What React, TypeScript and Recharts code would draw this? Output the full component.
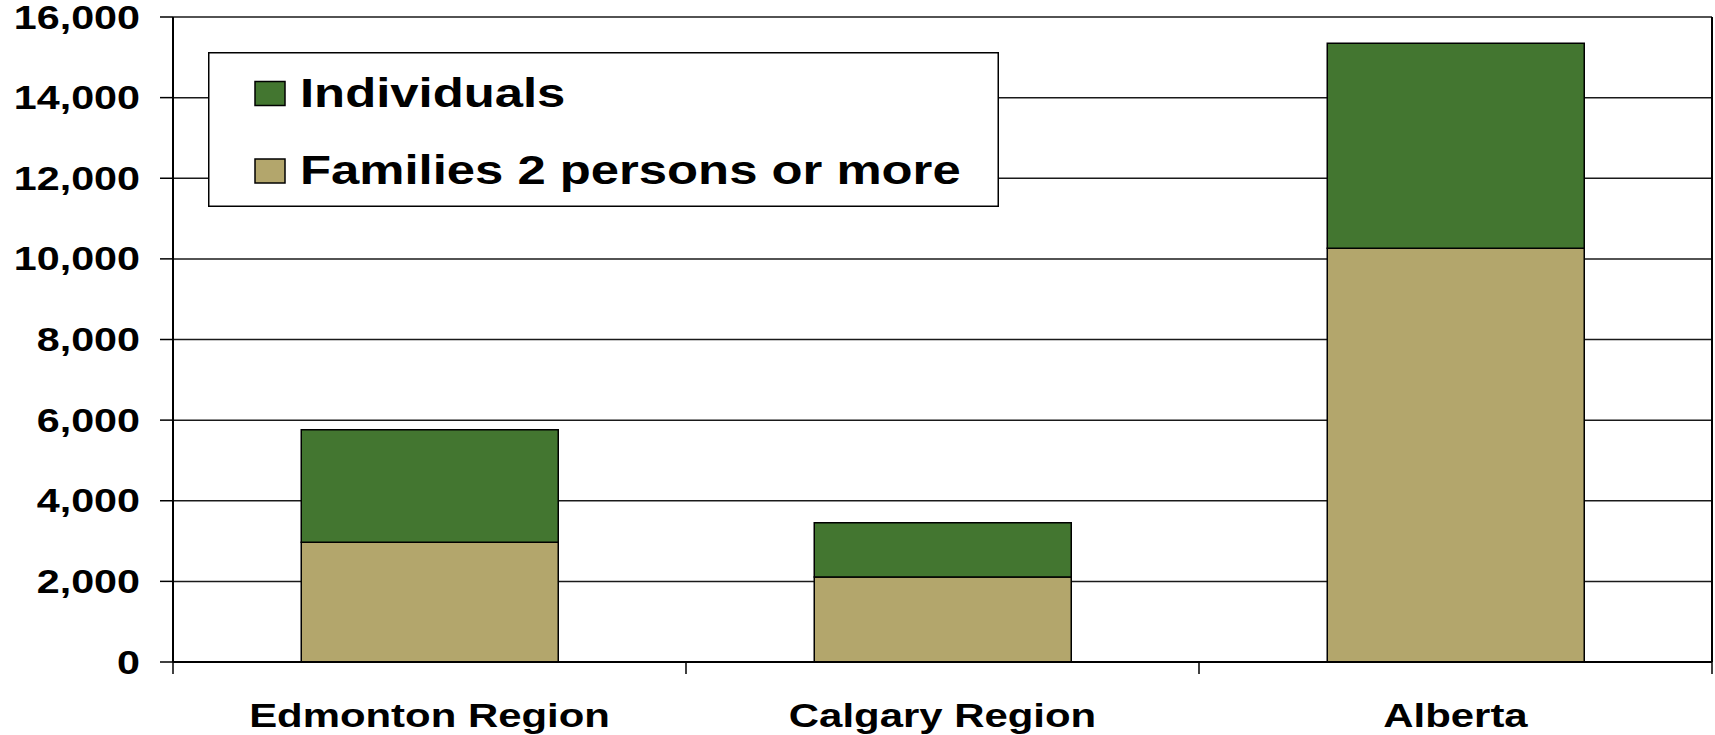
import React from "react";
import { BarChart, Bar, XAxis, YAxis, CartesianGrid, Legend } from "recharts";

const categories = ["Edmonton Region", "Calgary Region", "Alberta"];
const families = [2970, 2110, 10265];
const individuals = [2790, 1345, 5085];
const yTicks = [0, 2000, 4000, 6000, 8000, 10000, 12000, 14000, 16000];
const seriesNames = { fam: "Families 2 persons or more", ind: "Individuals" };

const data = categories.map((c, i) => ({ name: c, fam: families[i], ind: individuals[i] }));

const W = 1715;
const H = 735;
const FONT = "'Liberation Sans', Arial, sans-serif";
const SX = 1.27;
const GREEN = "#437630";
const TAN = "#B3A66C";
const MARGIN = { top: 17, right: 2, bottom: 0, left: 0 };
const YW = 173;
const PLOT_W = W - MARGIN.left - MARGIN.right - YW - 1;
const BAND = PLOT_W / categories.length;

const fmt = (v: number) => v.toLocaleString("en-US");

const YTick = (props: any) => {
  const { x, y, payload } = props;
  return (
    <text
      transform={`translate(${x},${y + 11.5}) scale(${SX},1)`}
      textAnchor="end"
      fontFamily={FONT}
      fontWeight="bold"
      fontSize={32.5}
      fill="#000"
    >
      {fmt(payload.value)}
    </text>
  );
};

const XTick = (props: any) => {
  const { x, y, payload, index } = props;
  const half = BAND / 2;
  return (
    <g>
      <line x1={x - half} x2={x - half} y1={y} y2={y + 12} stroke="#000" strokeWidth={1.5} />
      {index === categories.length - 1 && (
        <line x1={x + half} x2={x + half} y1={y} y2={y + 12} stroke="#000" strokeWidth={1.5} />
      )}
      <text
        transform={`translate(${x},${y + 65}) scale(${SX},1)`}
        textAnchor="middle"
        fontFamily={FONT}
        fontWeight="bold"
        fontSize={33}
        fill="#000"
      >
        {payload.value}
      </text>
    </g>
  );
};

const LegendContent = () => {
  const rows = [
    { name: seriesNames.ind, color: GREEN, sqTop: 29.5, base: 55 },
    { name: seriesNames.fam, color: TAN, sqTop: 107, base: 132 },
  ];
  return (
    <svg width={791} height={155} style={{ display: "block" }}>
      <rect x={0.75} y={0.75} width={789.5} height={153.5} fill="#fff" stroke="#000" strokeWidth={1.5} />
      {rows.map((r) => (
        <g key={r.name}>
          <rect x={47} y={r.sqTop} width={30} height={24} fill={r.color} stroke="#000" strokeWidth={1.5} />
          <text
            transform={`translate(92,${r.base}) scale(${SX},1)`}
            fontFamily={FONT}
            fontWeight="bold"
            fontSize={40}
            fill="#000"
          >
            {r.name}
          </text>
        </g>
      ))}
    </svg>
  );
};

export default function App() {
  return (
    <div style={{ position: "absolute", left: 0, top: 0, width: W, height: H, background: "#fff" }}>
      <BarChart width={W} height={H} data={data} margin={MARGIN} barCategoryGap="25%">
        <CartesianGrid vertical={false} stroke="#1a1a1a" strokeWidth={1.5} />
        <XAxis
          dataKey="name"
          height={73}
          tickLine={false}
          tickSize={0}
          tickMargin={0}
          axisLine={{ stroke: "#000", strokeWidth: 2 }}
          tick={<XTick />}
          interval={0}
        />
        <YAxis
          width={YW}
          domain={[0, 16000]}
          ticks={yTicks}
          interval={0}
          tickSize={13}
          tickMargin={20}
          tickLine={{ stroke: "#000", strokeWidth: 1.5 }}
          axisLine={{ stroke: "#000", strokeWidth: 2 }}
          tick={<YTick />}
        />
        <YAxis
          yAxisId="r"
          orientation="right"
          width={1}
          domain={[0, 16000]}
          tick={false}
          tickLine={false}
          axisLine={{ stroke: "#000", strokeWidth: 2 }}
        />
        <Legend
          layout="vertical"
          align="center"
          verticalAlign="middle"
          wrapperStyle={{ left: 208, top: 52, width: 791, height: 155 }}
          content={<LegendContent />}
        />
        <Bar dataKey="fam" name={seriesNames.fam} stackId="a" fill={TAN} stroke="#000" strokeWidth={1.5} isAnimationActive={false} />
        <Bar dataKey="ind" name={seriesNames.ind} stackId="a" fill={GREEN} stroke="#000" strokeWidth={1.5} isAnimationActive={false} />
      </BarChart>
    </div>
  );
}
